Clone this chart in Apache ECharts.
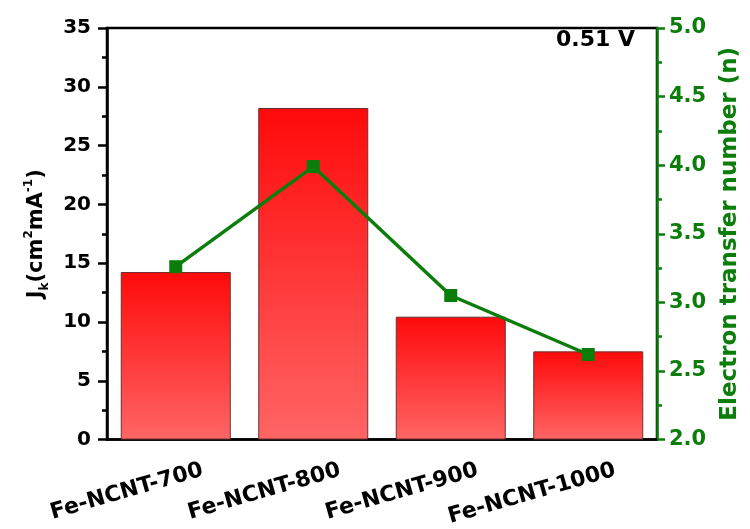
<!DOCTYPE html>
<html>
<head>
<meta charset="utf-8">
<script src="https://cdn.jsdelivr.net/npm/echarts@6/dist/echarts.min.js"></script>
<style>html,body{margin:0;padding:0;background:#fff}#c{width:750px;height:529px}</style>
</head>
<body>
<div id="c"></div>
<script>
const categories = ['Fe-NCNT-700', 'Fe-NCNT-800', 'Fe-NCNT-900', 'Fe-NCNT-1000'];
const jkValues = [14.25, 28.2, 10.45, 7.5];
const electronNumbers = [3.26, 3.99, 3.05, 2.62];
const potentialLabel = '0.51 V';

const FONT = '"DejaVu Sans", sans-serif';
const GREEN = '#0b7d0b';

const chart = echarts.init(document.getElementById('c'), null, {renderer: 'canvas'});
chart.setOption({
  animation: false,
  backgroundColor: '#fff',
  title: {
    text: potentialLabel,
    right: 110, top: 24,
    textStyle: {fontFamily: FONT, fontWeight: 'bold', fontSize: 22, color: '#000'}
  },
  grid: {
    left: 107, right: 92, top: 28, bottom: 88,
    show: true, borderColor: '#000', borderWidth: 2.5, backgroundColor: 'transparent'
  },
  xAxis: {
    type: 'category',
    data: categories,
    axisLine: {lineStyle: {color: '#000', width: 2.5}},
    axisTick: {alignWithLabel: true, length: 7, lineStyle: {color: '#000', width: 2.5}},
    axisLabel: {
      rotate: 16, margin: 38, fontFamily: FONT, fontWeight: 'bold', fontSize: 22, color: '#000',
      padding: [0, -28, 0, 0]
    }
  },
  yAxis: [
    {
      type: 'value', min: 0, max: 35, interval: 5,
      name: '{b|J}{s|k}{b|(cm}{p|2}{b|mA}{p|-1}{b|)}',
      nameLocation: 'middle', nameRotate: 90, nameGap: 56,
      nameTextStyle: {
        rich: {
          b: {fontFamily: FONT, fontWeight: 'bold', fontSize: 21, color: '#000', lineHeight: 28, verticalAlign: 'middle'},
          s: {fontFamily: FONT, fontWeight: 'bold', fontSize: 12, color: '#000', lineHeight: 28, verticalAlign: 'bottom'},
          p: {fontFamily: FONT, fontWeight: 'bold', fontSize: 12, color: '#000', lineHeight: 28, verticalAlign: 'top'}
        }
      },
      axisLine: {show: true, lineStyle: {color: '#000', width: 2.5}},
      axisTick: {show: true, length: 9, lineStyle: {color: '#000', width: 2.5}},
      minorTick: {show: true, splitNumber: 2, length: 5, lineStyle: {color: '#000', width: 2.5}},
      splitLine: {show: false},
      axisLabel: {margin: 16, fontFamily: FONT, fontWeight: 'bold', fontSize: 20, color: '#000'}
    },
    {
      type: 'value', min: 2.0, max: 5.0, interval: 0.5, position: 'right',
      name: 'Electron transfer number (n)',
      nameLocation: 'middle', nameRotate: 90, nameGap: 62,
      nameTextStyle: {fontFamily: FONT, fontWeight: 'bold', fontSize: 23, color: GREEN},
      axisLine: {show: true, lineStyle: {color: GREEN, width: 2.5}},
      axisTick: {show: true, length: 8, lineStyle: {color: GREEN, width: 2.5}},
      minorTick: {show: true, splitNumber: 2, length: 5, lineStyle: {color: GREEN, width: 2.5}},
      splitLine: {show: false},
      axisLabel: {margin: 12, fontFamily: FONT, fontWeight: 'bold', fontSize: 21, color: GREEN,
        formatter: v => v.toFixed(1)}
    }
  ],
  series: [
    {
      type: 'bar',
      yAxisIndex: 0,
      data: jkValues,
      barWidth: '80%',
      itemStyle: {
        color: new echarts.graphic.LinearGradient(0, 0, 0, 1, [
          {offset: 0, color: '#ff0a0a'},
          {offset: 1, color: '#ff6565'}
        ]),
        borderColor: '#6a3030', borderWidth: 1
      }
    },
    {
      type: 'line',
      yAxisIndex: 1,
      data: electronNumbers,
      symbol: 'rect', symbolSize: 13,
      lineStyle: {color: GREEN, width: 3.5},
      itemStyle: {color: GREEN}
    }
  ]
});
</script>
</body>
</html>
